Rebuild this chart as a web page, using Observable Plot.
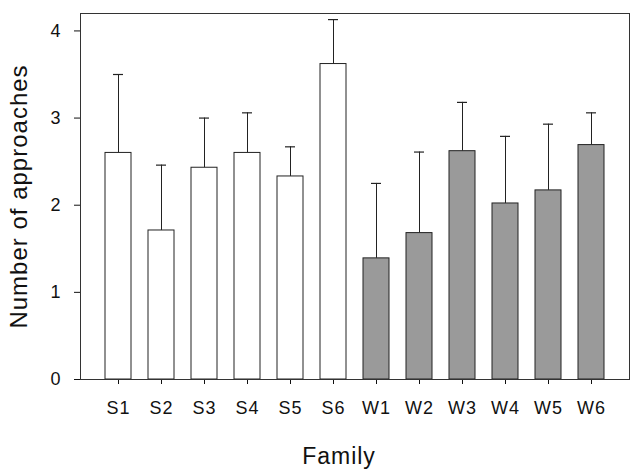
<!DOCTYPE html>
<html>
<head>
<meta charset="utf-8">
<script src="https://cdn.jsdelivr.net/npm/d3@7"></script>
<script src="https://cdn.jsdelivr.net/npm/@observablehq/plot@0.6"></script>
<style>
  html, body { margin: 0; padding: 0; background: #fff; }
  svg text { letter-spacing: 1px; }
  g[aria-label="xtitle"] text { letter-spacing: 3.5px; }
  g[aria-label="ytitle"] text { letter-spacing: 0.5px; }
</style>
</head>
<body>
<div id="chart"></div>
<script>
const families = ["S1", "S2", "S3", "S4", "S5", "S6", "W1", "W2", "W3", "W4", "W5", "W6"];
const groups   = ["S", "S", "S", "S", "S", "S", "W", "W", "W", "W", "W", "W"];
const means    = [2.60, 1.71, 2.43, 2.60, 2.33, 3.62, 1.39, 1.68, 2.62, 2.02, 2.17, 2.69];
const upper    = [3.50, 2.46, 3.00, 3.06, 2.67, 4.13, 2.25, 2.61, 3.18, 2.79, 2.93, 3.06];
const yTicks   = [0, 1, 2, 3, 4];
const xTitle = "Family";
const yTitle = "Number of approaches";

const data = families.map((f, i) => ({family: f, group: groups[i], mean: means[i], upper: upper[i]}));
const fillFor = {S: "#ffffff", W: "#9a9a9a"};

const chart = Plot.plot({
  width: 632,
  height: 471,
  marginLeft: 80,
  marginRight: 3,
  marginTop: 13,
  marginBottom: 92,
  style: {fontFamily: "'Liberation Sans', Arial, Helvetica, sans-serif", fontSize: "18px", background: "#fff", color: "#111"},
  x: {domain: families, paddingInner: 0.385, paddingOuter: 0.445, label: null, tickSize: 5, tickPadding: 17},
  y: {domain: [0, 4.2], ticks: yTicks, tickFormat: d3.format("d"), label: null, tickSize: 6, tickPadding: 13},
  marks: [
    Plot.ruleX(data, {x: "family", y1: "mean", y2: "upper", stroke: "#222", strokeWidth: 1}),
    Plot.tickY(data, {x: "family", y: "upper", stroke: "#222", strokeWidth: 1.2, insetLeft: 8, insetRight: 8}),
    Plot.barY(data, {x: "family", y: "mean", fill: d => fillFor[d.group], stroke: "#222", strokeWidth: 1}),
    Plot.frame({stroke: "#333", strokeWidth: 1}),
    Plot.text([xTitle], {frameAnchor: "bottom", dx: -16, dy: 77, lineAnchor: "middle", fontSize: 23, fill: "#111", ariaLabel: "xtitle"}),
    Plot.text([yTitle], {frameAnchor: "left", dx: -61, rotate: -90, textAnchor: "middle", lineAnchor: "middle", fontSize: 24, fill: "#111", ariaLabel: "ytitle"})
  ]
});
document.getElementById("chart").appendChild(chart);
</script>
</body>
</html>
